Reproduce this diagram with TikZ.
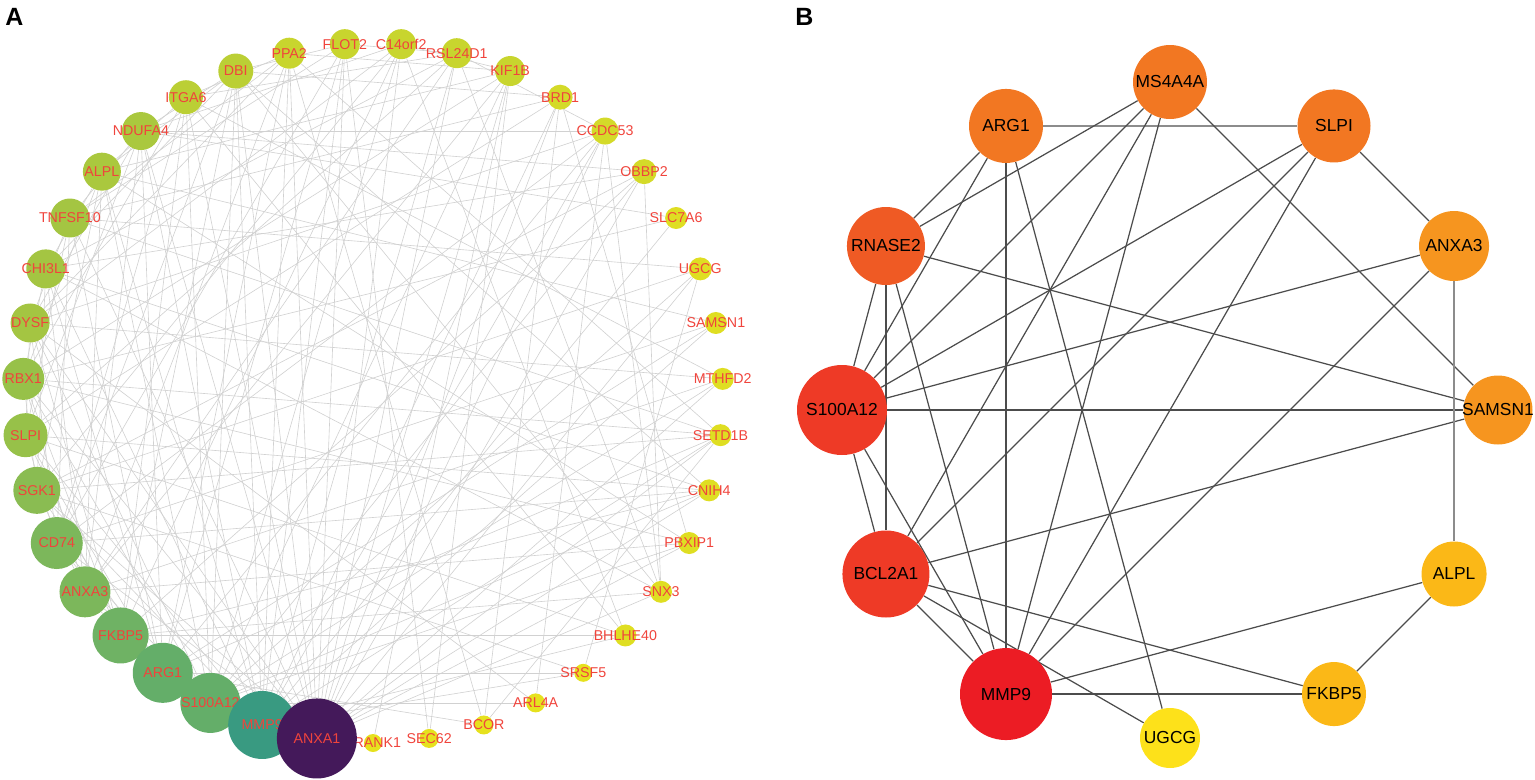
\documentclass[tikz,border=0pt]{standalone}
\usepackage{fontspec}
\setmainfont{Liberation Sans}
\usepackage{tikz}
\usetikzlibrary{backgrounds}

% node colours, panel A (viridis-like) and panel B (heat)
\definecolor{vir1}{HTML}{44195A}
\definecolor{vir2}{HTML}{399A81}
\definecolor{vir3}{HTML}{64AE69}
\definecolor{vir4}{HTML}{6FB264}
\definecolor{vir5}{HTML}{7CB75B}
\definecolor{vir6}{HTML}{8ABC52}
\definecolor{vir7}{HTML}{97C149}
\definecolor{vir8}{HTML}{A4C542}
\definecolor{vir9}{HTML}{AAC83E}
\definecolor{vir10}{HTML}{BBCF35}
\definecolor{vir11}{HTML}{C8D52E}
\definecolor{vir12}{HTML}{D4DA29}
\definecolor{vir13}{HTML}{DFDE22}
\definecolor{vir14}{HTML}{E6E11E}
\definecolor{labred}{HTML}{F0443C}
\definecolor{heat1}{HTML}{EC1C24}
\definecolor{heat2}{HTML}{EE3A26}
\definecolor{heat3}{HTML}{EF5A24}
\definecolor{heat4}{HTML}{F27722}
\definecolor{heat5}{HTML}{F6951F}
\definecolor{heat6}{HTML}{FBB817}
\definecolor{heat7}{HTML}{FDE11A}

\tikzset{
  dotA/.style={circle, inner sep=0pt, draw=none},
  txtA/.style={text=labred, inner sep=0pt, font=\fontsize{8.1}{8}\selectfont},
  dotB/.style={circle, inner sep=0pt, draw=none},
  txtB/.style={text=black, inner sep=0pt, font=\fontsize{9.9}{10}\selectfont},
  linkA/.style={draw=black!18, line width=0.35pt},
  linkB/.style={draw=black!70, line width=0.7pt},
  linkBl/.style={draw=black!45, line width=0.7pt},
  tag/.style={font=\bfseries\fontsize{14.2}{14}\selectfont, inner sep=0pt, anchor=base west}
}

\begin{document}
\begin{tikzpicture}
  \useasboundingbox (0,0) rectangle (30.7,-15.58);
  % Sizes
  \pgfmathsetmacro{\Ra}{7.0}
  \pgfmathsetmacro{\Rb}{6.56}

  % panel tags
  \node[tag] (tagA) at (0.1,-0.5) {A};
  \node[tag] (tagB) at (15.9,-0.5) {B};

  % ---------------- panel A ----------------
  \begin{scope}[shift={(7.46,-7.86)}]
    % vertices, smallest first
    \node[dotA, fill=vir14, minimum size=0.36cm, label={[txtA]center:TRANK1}] (aTRANK1) at (-90:\Ra) {};
    \node[dotA, fill=vir14, minimum size=0.36cm, label={[txtA]center:SRSF5}] (aSRSF5) at (-53.08:\Ra) {};
    \node[dotA, fill=vir14, minimum size=0.38cm, label={[txtA]center:ARL4A}] (aARL4A) at (-62.31:\Ra) {};
    \node[dotA, fill=vir14, minimum size=0.38cm, label={[txtA]center:BCOR}] (aBCOR) at (-71.54:\Ra) {};
    \node[dotA, fill=vir14, minimum size=0.38cm, label={[txtA]center:SEC62}] (aSEC62) at (-80.77:\Ra) {};
    \node[dotA, fill=vir13, minimum size=0.44cm, label={[txtA]center:SLC7A6}] (aSLC7A6) at (30:\Ra) {};
    \node[dotA, fill=vir13, minimum size=0.44cm, label={[txtA]center:SAMSN1}] (aSAMSN1) at (11.54:\Ra) {};
    \node[dotA, fill=vir13, minimum size=0.44cm, label={[txtA]center:MTHFD2}] (aMTHFD2) at (2.31:\Ra) {};
    \node[dotA, fill=vir13, minimum size=0.44cm, label={[txtA]center:SETD1B}] (aSETD1B) at (-6.92:\Ra) {};
    \node[dotA, fill=vir13, minimum size=0.44cm, label={[txtA]center:CNIH4}] (aCNIH4) at (-16.15:\Ra) {};
    \node[dotA, fill=vir13, minimum size=0.44cm, label={[txtA]center:PBXIP1}] (aPBXIP1) at (-25.38:\Ra) {};
    \node[dotA, fill=vir13, minimum size=0.44cm, label={[txtA]center:SNX3}] (aSNX3) at (-34.62:\Ra) {};
    \node[dotA, fill=vir13, minimum size=0.44cm, label={[txtA]center:BHLHE40}] (aBHLHE40) at (-43.85:\Ra) {};
    \node[dotA, fill=vir13, minimum size=0.46cm, label={[txtA]center:UGCG}] (aUGCG) at (20.77:\Ra) {};
    \node[dotA, fill=vir12, minimum size=0.50cm, label={[txtA]center:BRD1}] (aBRD1) at (57.69:\Ra) {};
    \node[dotA, fill=vir12, minimum size=0.50cm, label={[txtA]center:OBBP2}] (aOBBP2) at (39.23:\Ra) {};
    \node[dotA, fill=vir12, minimum size=0.54cm, label={[txtA]center:CCDC53}] (aCCDC53) at (48.46:\Ra) {};
    \node[dotA, fill=vir11, minimum size=0.60cm, label={[txtA]center:FLOT2}] (aFLOT2) at (94.62:\Ra) {};
    \node[dotA, fill=vir11, minimum size=0.60cm, label={[txtA]center:C14orf2}] (aC14orf2) at (85.38:\Ra) {};
    \node[dotA, fill=vir11, minimum size=0.60cm, label={[txtA]center:RSL24D1}] (aRSL24D1) at (76.15:\Ra) {};
    \node[dotA, fill=vir11, minimum size=0.60cm, label={[txtA]center:KIF1B}] (aKIF1B) at (66.92:\Ra) {};
    \node[dotA, fill=vir11, minimum size=0.62cm, label={[txtA]center:PPA2}] (aPPA2) at (103.85:\Ra) {};
    \node[dotA, fill=vir10, minimum size=0.68cm, label={[txtA]center:ITGA6}] (aITGA6) at (122.31:\Ra) {};
    \node[dotA, fill=vir10, minimum size=0.70cm, label={[txtA]center:DBI}] (aDBI) at (113.08:\Ra) {};
    \node[dotA, fill=vir9, minimum size=0.76cm, label={[txtA]center:NDUFA4}] (aNDUFA4) at (131.54:\Ra) {};
    \node[dotA, fill=vir9, minimum size=0.76cm, label={[txtA]center:ALPL}] (aALPL) at (140.77:\Ra) {};
    \node[dotA, fill=vir8, minimum size=0.78cm, label={[txtA]center:TNFSF10}] (aTNFSF10) at (150:\Ra) {};
    \node[dotA, fill=vir8, minimum size=0.78cm, label={[txtA]center:CHI3L1}] (aCHI3L1) at (159.23:\Ra) {};
    \node[dotA, fill=vir8, minimum size=0.78cm, label={[txtA]center:DYSF}] (aDYSF) at (168.46:\Ra) {};
    \node[dotA, fill=vir7, minimum size=0.84cm, label={[txtA]center:RBX1}] (aRBX1) at (177.69:\Ra) {};
    \node[dotA, fill=vir7, minimum size=0.88cm, label={[txtA]center:SLPI}] (aSLPI) at (-173.08:\Ra) {};
    \node[dotA, fill=vir6, minimum size=0.94cm, label={[txtA]center:SGK1}] (aSGK1) at (-163.85:\Ra) {};
    \node[dotA, fill=vir5, minimum size=1.04cm, label={[txtA]center:CD74}] (aCD74) at (-154.62:\Ra) {};
    \node[dotA, fill=vir5, minimum size=1.02cm, label={[txtA]center:ANXA3}] (aANXA3) at (-145.38:\Ra) {};
    \node[dotA, fill=vir4, minimum size=1.12cm, label={[txtA]center:FKBP5}] (aFKBP5) at (-136.15:\Ra) {};
    \node[dotA, fill=vir3, minimum size=1.20cm, label={[txtA]center:ARG1}] (aARG1) at (-126.92:\Ra) {};
    \node[dotA, fill=vir3, minimum size=1.20cm, label={[txtA]center:S100A12}] (aS100A12) at (-117.69:\Ra) {};
    \node[dotA, fill=vir2, minimum size=1.36cm, label={[txtA]center:MMP9}] (aMMP9) at (-108.46:\Ra) {};
    \node[dotA, fill=vir1, minimum size=1.60cm, label={[txtA]center:ANXA1}] (aANXA1) at (-99.23:\Ra) {};

    % interactions
    \begin{scope}[on background layer]
      \foreach \t in {CD74,SGK1,RBX1,DYSF,TNFSF10,NDUFA4,ITGA6,DBI,PPA2,FLOT2,C14orf2,RSL24D1,KIF1B,BRD1,CCDC53,OBBP2,UGCG,MTHFD2,SETD1B,CNIH4,PBXIP1,SNX3}
        \draw[linkA] (aANXA1) -- (a\t);
      \foreach \t in {FKBP5,SGK1,SLPI,CHI3L1,ALPL,NDUFA4,DBI,PPA2,FLOT2,RSL24D1,BRD1,CCDC53,SLC7A6,SAMSN1,SETD1B,BHLHE40,SRSF5}
        \draw[linkA] (aMMP9) -- (a\t);
      \foreach \t in {ANXA3,CD74,RBX1,DYSF,ALPL,ITGA6,DBI,C14orf2,KIF1B,OBBP2,UGCG,MTHFD2,CNIH4,PBXIP1,ARL4A}
        \draw[linkA] (aS100A12) -- (a\t);
      \foreach \t in {CD74,SGK1,SLPI,CHI3L1,TNFSF10,NDUFA4,PPA2,FLOT2,CCDC53,SAMSN1,SETD1B,SRSF5,BCOR}
        \draw[linkA] (aARG1) -- (a\t);
      \foreach \t in {ANXA3,SLPI,RBX1,DYSF,ITGA6,DBI,C14orf2,OBBP2,CNIH4,BHLHE40,SNX3}
        \draw[linkA] (aFKBP5) -- (a\t);
      \foreach \t in {SGK1,RBX1,CHI3L1,ALPL,NDUFA4,PPA2,RSL24D1,KIF1B,MTHFD2,PBXIP1}
        \draw[linkA] (aANXA3) -- (a\t);
      \foreach \t in {SLPI,DYSF,TNFSF10,ITGA6,DBI,FLOT2,CCDC53,SAMSN1,CNIH4}
        \draw[linkA] (aCD74) -- (a\t);
      \foreach \t in {RBX1,CHI3L1,ALPL,C14orf2,OBBP2,UGCG,SETD1B,SRSF5}
        \draw[linkA] (aSGK1) -- (a\t);
      \foreach \t in {DYSF,TNFSF10,NDUFA4,RSL24D1,BRD1,CNIH4,BHLHE40}
        \draw[linkA] (aSLPI) -- (a\t);
      \foreach \t in {CHI3L1,ALPL,ITGA6,KIF1B,SLC7A6,SETD1B,PBXIP1}
        \draw[linkA] (aRBX1) -- (a\t);
      \foreach \t in {TNFSF10,NDUFA4,PPA2,C14orf2,CCDC53,MTHFD2,ARL4A}
        \draw[linkA] (aDYSF) -- (a\t);
      \foreach \t in {ALPL,DBI,RSL24D1,OBBP2,CNIH4,SNX3}
        \draw[linkA] (aCHI3L1) -- (a\t);
      \foreach \t in {NDUFA4,PPA2,FLOT2,BRD1,UGCG,SETD1B}
        \draw[linkA] (aTNFSF10) -- (a\t);
      \foreach \t in {ITGA6,DBI,KIF1B,SAMSN1,PBXIP1}
        \draw[linkA] (aALPL) -- (a\t);
      \foreach \t in {DBI,C14orf2,CCDC53,OBBP2,SLC7A6}
        \draw[linkA] (aNDUFA4) -- (a\t);
      \foreach \t in {PPA2,RSL24D1,MTHFD2,BHLHE40}
        \draw[linkA] (aITGA6) -- (a\t);
      \foreach \t in {FLOT2,BRD1,CNIH4,SNX3}
        \draw[linkA] (aDBI) -- (a\t);
      \foreach \t in {KIF1B,SETD1B,BCOR}
        \draw[linkA] (aPPA2) -- (a\t);
      \draw[linkA] (aFLOT2) -- (aRSL24D1);
      \draw[linkA] (aFLOT2) -- (aSEC62);
      \draw[linkA] (aC14orf2) -- (aKIF1B);
      \draw[linkA] (aC14orf2) -- (aBHLHE40);
      \draw[linkA] (aRSL24D1) -- (aCCDC53);
      \draw[linkA] (aRSL24D1) -- (aSNX3);
      \draw[linkA] (aKIF1B) -- (aSEC62);
      \draw[linkA] (aKIF1B) -- (aTRANK1);
      \draw[linkA] (aBRD1) -- (aPBXIP1);
      \draw[linkA] (aBRD1) -- (aBCOR);
      \draw[linkA] (aCCDC53) -- (aSNX3);
      \draw[linkA] (aCCDC53) -- (aARL4A);
      \draw[linkA] (aOBBP2) -- (aSNX3);
      \draw[linkA] (aSETD1B) -- (aBCOR);
      \draw[linkA] (aUGCG) -- (aSRSF5);
    \end{scope}
  \end{scope}

  % ---------------- panel B ----------------
  \begin{scope}[shift={(23.4,-8.2)}]
    % vertices
    \node[dotB, fill=heat4, minimum size=1.48cm, label={[txtB]center:MS4A4A}] (bMS4A4A) at (90:\Rb) {};
    \node[dotB, fill=heat4, minimum size=1.46cm, label={[txtB]center:SLPI}] (bSLPI) at (60:\Rb) {};
    \node[dotB, fill=heat5, minimum size=1.40cm, label={[txtB]center:ANXA3}] (bANXA3) at (30:\Rb) {};
    \node[dotB, fill=heat5, minimum size=1.38cm, label={[txtB]center:SAMSN1}] (bSAMSN1) at (0:\Rb) {};
    \node[dotB, fill=heat6, minimum size=1.30cm, label={[txtB]center:ALPL}] (bALPL) at (-30:\Rb) {};
    \node[dotB, fill=heat6, minimum size=1.28cm, label={[txtB]center:FKBP5}] (bFKBP5) at (-60:\Rb) {};
    \node[dotB, fill=heat7, minimum size=1.20cm, label={[txtB]center:UGCG}] (bUGCG) at (-90:\Rb) {};
    \node[dotB, fill=heat1, minimum size=1.84cm, label={[txtB]center:MMP9}] (bMMP9) at (-120:\Rb) {};
    \node[dotB, fill=heat2, minimum size=1.74cm, label={[txtB]center:BCL2A1}] (bBCL2A1) at (-150:\Rb) {};
    \node[dotB, fill=heat2, minimum size=1.80cm, label={[txtB]center:S100A12}] (bS100A12) at (180:\Rb) {};
    \node[dotB, fill=heat3, minimum size=1.56cm, label={[txtB]center:RNASE2}] (bRNASE2) at (150:\Rb) {};
    \node[dotB, fill=heat4, minimum size=1.48cm, label={[txtB]center:ARG1}] (bARG1) at (120:\Rb) {};

    % interactions
    \begin{scope}[on background layer]
      \draw[linkBl] (bARG1) -- (bSLPI);
      \foreach \t in {RNASE2,S100A12,MMP9,UGCG}
        \draw[linkB] (bARG1) -- (b\t);
      \foreach \t in {RNASE2,S100A12,BCL2A1,MMP9,SAMSN1}
        \draw[linkB] (bMS4A4A) -- (b\t);
      \foreach \t in {ANXA3,S100A12,BCL2A1,MMP9}
        \draw[linkB] (bSLPI) -- (b\t);
      \foreach \t in {SAMSN1,S100A12,BCL2A1,MMP9}
        \draw[linkB] (bRNASE2) -- (b\t);
      \foreach \t in {BCL2A1,MMP9,SAMSN1,ANXA3}
        \draw[linkB] (bS100A12) -- (b\t);
      \foreach \t in {MMP9,UGCG,FKBP5,SAMSN1}
        \draw[linkB] (bBCL2A1) -- (b\t);
      \draw[linkB] (bANXA3) -- (bMMP9);
      \draw[linkBl] (bANXA3) -- (bALPL);
      \draw[linkB] (bMMP9) -- (bALPL);
      \draw[linkB] (bMMP9) -- (bFKBP5);
      \draw[linkB] (bALPL) -- (bFKBP5);
    \end{scope}
  \end{scope}
\end{tikzpicture}
\end{document}
